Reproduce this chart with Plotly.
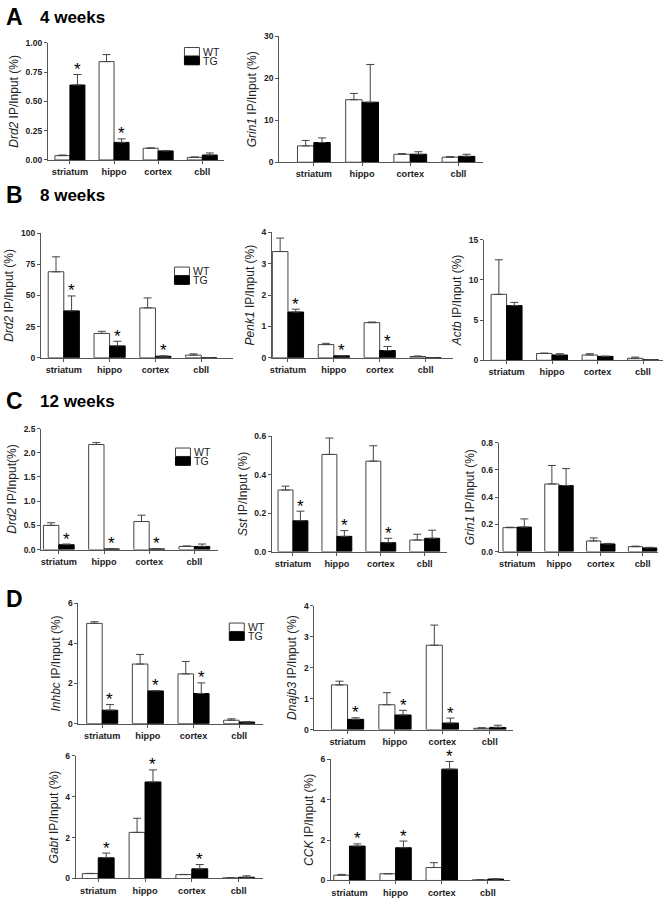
import plotly.graph_objects as go

categories = ["striatum", "hippo", "cortex", "cbll"]

# ---------------- A: 4 weeks ----------------
a_drd2_wt = [0.037, 0.84, 0.10, 0.022]
a_drd2_wt_err = [0.005, 0.06, 0.003, 0.004]
a_drd2_tg = [0.64, 0.15, 0.077, 0.042]
a_drd2_tg_err = [0.09, 0.03, 0.004, 0.018]
a_drd2_sig = [1, 1, 0, 0]

a_grin1_wt = [3.9, 14.9, 1.9, 1.2]
a_grin1_wt_err = [1.3, 1.5, 0.15, 0.15]
a_grin1_tg = [4.7, 14.3, 1.9, 1.4]
a_grin1_tg_err = [1.1, 9.0, 0.6, 0.5]
a_grin1_sig = [0, 0, 0, 0]

# ---------------- B: 8 weeks ----------------
b_drd2_wt = [69.0, 19.5, 40.0, 2.1]
b_drd2_wt_err = [12.0, 1.7, 8.0, 1.0]
b_drd2_tg = [37.6, 9.5, 1.2, 0.0]
b_drd2_tg_err = [12.0, 3.7, 0.3, 0.0]
b_drd2_sig = [1, 1, 1, 0]

b_penk1_wt = [3.39, 0.42, 1.12, 0.04]
b_penk1_wt_err = [0.43, 0.04, 0.02, 0.015]
b_penk1_tg = [1.46, 0.06, 0.23, 0.0]
b_penk1_tg_err = [0.09, 0.01, 0.13, 0.0]
b_penk1_sig = [1, 1, 1, 0]

b_actb_wt = [8.2, 0.85, 0.66, 0.25]
b_actb_wt_err = [4.3, 0.05, 0.16, 0.15]
b_actb_tg = [6.8, 0.66, 0.49, 0.06]
b_actb_tg_err = [0.4, 0.16, 0.03, 0.02]
b_actb_sig = [0, 0, 0, 0]

# ---------------- C: 12 weeks ----------------
c_drd2_wt = [0.50, 2.17, 0.58, 0.065]
c_drd2_wt_err = [0.055, 0.04, 0.13, 0.01]
c_drd2_tg = [0.10, 0.014, 0.014, 0.065]
c_drd2_tg_err = [0.015, 0.005, 0.005, 0.05]
c_drd2_sig = [1, 1, 1, 0]

c_sst_wt = [0.32, 0.505, 0.47, 0.06]
c_sst_wt_err = [0.02, 0.085, 0.08, 0.03]
c_sst_tg = [0.16, 0.079, 0.046, 0.069]
c_sst_tg_err = [0.05, 0.03, 0.023, 0.042]
c_sst_sig = [1, 1, 1, 0]

c_grin1_wt = [0.176, 0.497, 0.078, 0.036]
c_grin1_wt_err = [0.003, 0.136, 0.022, 0.004]
c_grin1_tg = [0.18, 0.485, 0.056, 0.027]
c_grin1_tg_err = [0.06, 0.125, 0.004, 0.004]
c_grin1_sig = [0, 0, 0, 0]

# ---------------- D ----------------
d_inhbc_wt = [5.0, 2.97, 2.48, 0.17]
d_inhbc_wt_err = [0.08, 0.48, 0.62, 0.07]
d_inhbc_tg = [0.67, 1.63, 1.5, 0.08]
d_inhbc_tg_err = [0.28, 0.02, 0.53, 0.01]
d_inhbc_sig = [1, 1, 1, 0]

d_dnajb3_wt = [1.44, 0.8, 2.72, 0.04]
d_dnajb3_wt_err = [0.12, 0.39, 0.65, 0.02]
d_dnajb3_tg = [0.33, 0.47, 0.21, 0.07]
d_dnajb3_tg_err = [0.05, 0.15, 0.16, 0.07]
d_dnajb3_sig = [1, 1, 1, 0]

d_gabt_wt = [0.24, 2.25, 0.19, 0.03]
d_gabt_wt_err = [0.01, 0.69, 0.01, 0.01]
d_gabt_tg = [1.01, 4.71, 0.47, 0.06]
d_gabt_tg_err = [0.23, 0.59, 0.21, 0.07]
d_gabt_sig = [1, 1, 1, 0]

d_cck_wt = [0.26, 0.33, 0.64, 0.03]
d_cck_wt_err = [0.04, 0.01, 0.24, 0.005]
d_cck_tg = [1.7, 1.62, 5.51, 0.07]
d_cck_tg_err = [0.11, 0.33, 0.38, 0.01]
d_cck_sig = [1, 1, 1, 0]

W, H = 668, 900
FONT = "Liberation Sans, Arial, sans-serif"
INK = "#222222"
AX = "#555555"
BW = 0.34  # bar width in category units
STAR_SHIFT_PX = 5  # vertical shift of the asterisk above the error cap


def px(x):
    return x / W


def py(y):
    return 1 - y / H


panels = [
    dict(x0=46, x1=223, yt=38.3, yb=156.7, xr=(-0.5, 3.5), ymax=1.0,
         ticks=[0, 0.25, 0.5, 0.75, 1.0], fmt="{:.2f}",
         title="<i>Drd2</i> IP/Input (%)",
         d=(a_drd2_wt, a_drd2_wt_err, a_drd2_tg, a_drd2_tg_err, a_drd2_sig),
         leg=(183, 43)),
    dict(x0=278, x1=482, yt=31.7, yb=159, xr=(-0.72, 3.5), ymax=30,
         ticks=[0, 10, 20, 30], fmt="{:.0f}",
         title="<i>Grin1</i> IP/Input (%)",
         d=(a_grin1_wt, a_grin1_wt_err, a_grin1_tg, a_grin1_tg_err, a_grin1_sig),
         leg=None),
    dict(x0=39, x1=232, yt=230.7, yb=356.7, xr=(-0.5, 3.7), ymax=100,
         ticks=[0, 25, 50, 75, 100], fmt="{:.0f}",
         title="<i>Drd2</i> IP/Input (%)",
         d=(b_drd2_wt, b_drd2_wt_err, b_drd2_tg, b_drd2_tg_err, b_drd2_sig),
         leg=(173, 265)),
    dict(x0=270.7, x1=452, yt=230, yb=356.7, xr=(-0.35, 3.59), ymax=4,
         ticks=[0, 1, 2, 3, 4], fmt="{:.0f}",
         title="<i>Penk1</i> IP/Input (%)",
         d=(b_penk1_wt, b_penk1_wt_err, b_penk1_tg, b_penk1_tg_err, b_penk1_sig),
         leg=None),
    dict(x0=483.3, x1=663, yt=237.3, yb=359.3, xr=(-0.5, 3.44), ymax=15,
         ticks=[0, 5, 10, 15], fmt="{:.0f}",
         title="<i>Actb</i> IP/Input (%)",
         d=(b_actb_wt, b_actb_wt_err, b_actb_tg, b_actb_tg_err, b_actb_sig),
         leg=None),
    dict(x0=39.3, x1=217, yt=428.3, yb=550.7, xr=(-0.39, 3.53), ymax=2.5,
         ticks=[0, 0.5, 1.0, 1.5, 2.0, 2.5], fmt="{:.1f}",
         title="<i>Drd2</i> IP/Input(%)",
         d=(c_drd2_wt, c_drd2_wt_err, c_drd2_tg, c_drd2_tg_err, c_drd2_sig),
         leg=(174, 448)),
    dict(x0=270.7, x1=446, yt=436, yb=552.7, xr=(-0.48, 3.5), ymax=0.6,
         ticks=[0, 0.2, 0.4, 0.6], fmt="{:.1f}",
         title="<i>Sst</i> IP/Input (%)",
         d=(c_sst_wt, c_sst_wt_err, c_sst_tg, c_sst_tg_err, c_sst_sig),
         leg=None),
    dict(x0=498.3, x1=658, yt=442.7, yb=552.7, xr=(-0.44, 3.37), ymax=0.8,
         ticks=[0, 0.2, 0.4, 0.6, 0.8], fmt="{:.1f}",
         title="<i>Grin1</i> IP/Input (%)",
         d=(c_grin1_wt, c_grin1_wt_err, c_grin1_tg, c_grin1_tg_err, c_grin1_sig),
         leg=None),
    dict(x0=76.7, x1=261.7, yt=605, yb=726.7, xr=(-0.52, 3.52), ymax=6,
         ticks=[0, 2, 4, 6], fmt="{:.0f}",
         title="<i>Inhbc</i> IP/Input (%)",
         d=(d_inhbc_wt, d_inhbc_wt_err, d_inhbc_tg, d_inhbc_tg_err, d_inhbc_sig),
         leg=(228, 625)),
    dict(x0=313.3, x1=513, yt=607.3, yb=732.7, xr=(-0.7, 3.5), ymax=4,
         ticks=[0, 1, 2, 3, 4], fmt="{:.0f}",
         title="<i>Dnajb3</i> IP/Input (%)",
         d=(d_dnajb3_wt, d_dnajb3_wt_err, d_dnajb3_tg, d_dnajb3_tg_err, d_dnajb3_sig),
         leg=None),
    dict(x0=74, x1=261.7, yt=759, yb=883.3, xr=(-0.48, 3.52), ymax=6,
         ticks=[0, 2, 4, 6], fmt="{:.0f}",
         title="<i>Gabt</i> IP/Input (%)",
         d=(d_gabt_wt, d_gabt_wt_err, d_gabt_tg, d_gabt_tg_err, d_gabt_sig),
         leg=None),
    dict(x0=330, x1=510, yt=762.7, yb=885.3, xr=(-0.4, 3.49), ymax=6,
         ticks=[0, 2, 4, 6], fmt="{:.0f}",
         title="<i>CCK</i> IP/Input (%)",
         d=(d_cck_wt, d_cck_wt_err, d_cck_tg, d_cck_tg_err, d_cck_sig),
         leg=None),
]

fig = go.Figure()
annotations = []
shapes = []
idx = list(range(len(categories)))

for k, p in enumerate(panels, start=1):
    xa = "x" if k == 1 else f"x{k}"
    ya = "y" if k == 1 else f"y{k}"
    wt, wt_err, tg, tg_err, sig = p["d"]
    fig.add_trace(go.Bar(
        x=idx, y=wt, width=BW, offset=-BW, xaxis=xa, yaxis=ya, name="WT",
        marker=dict(color="white", line=dict(color="#444444", width=1)),
        error_y=dict(type="data", array=wt_err, arrayminus=[0] * 4,
                     symmetric=False, color="#444444", thickness=1, width=4),
        showlegend=False))
    fig.add_trace(go.Bar(
        x=idx, y=tg, width=BW, offset=0, xaxis=xa, yaxis=ya, name="TG",
        marker=dict(color="black", line=dict(color="black", width=1)),
        error_y=dict(type="data", array=tg_err, arrayminus=[0] * 4,
                     symmetric=False, color="#444444", thickness=1, width=4),
        showlegend=False))
    # significance asterisks above the TG error caps
    for i in idx:
        if sig[i]:
            annotations.append(dict(
                text="*", x=i + BW / 2, y=tg[i] + tg_err[i], xref=xa, yref=ya,
                showarrow=False, xanchor="center", yanchor="middle",
                yshift=STAR_SHIFT_PX,
                font=dict(size=17, color="black", family=FONT)))

    kx = "xaxis" if k == 1 else f"xaxis{k}"
    ky = "yaxis" if k == 1 else f"yaxis{k}"
    fig.layout[kx] = dict(
        domain=[px(p["x0"]), px(p["x1"])], anchor=ya, range=list(p["xr"]),
        tickvals=idx, ticktext=[f"<b>{c}</b>" for c in categories],
        showline=True, linecolor=AX, linewidth=1, ticks="outside", ticklen=3,
        tickcolor=AX, showgrid=False, zeroline=False, fixedrange=True,
        tickfont=dict(size=9.2, color=INK, family=FONT))
    fig.layout[ky] = dict(
        domain=[py(p["yb"]), py(p["yt"])], anchor=xa, range=[0, p["ymax"]],
        tickvals=p["ticks"], ticktext=[f"<b>{p['fmt'].format(t)}</b>" for t in p["ticks"]],
        showline=True, linecolor=AX, linewidth=1, ticks="outside", ticklen=3,
        tickcolor=AX, showgrid=False, zeroline=False, fixedrange=True,
        tickfont=dict(size=8.5, color=INK, family=FONT),
        title=dict(text=p["title"], standoff=4,
                   font=dict(size=12, color=INK, family=FONT)))
    if p["leg"]:
        lx, ly = p["leg"]
        shapes.append(dict(type="rect", xref="paper", yref="paper",
                           x0=px(lx), x1=px(lx + 15), y0=py(ly), y1=py(ly + 8.5),
                           fillcolor="white", line=dict(color="#444444", width=1)))
        shapes.append(dict(type="rect", xref="paper", yref="paper",
                           x0=px(lx), x1=px(lx + 15), y0=py(ly + 9), y1=py(ly + 17.5),
                           fillcolor="black", line=dict(color="black", width=1)))
        annotations.append(dict(text="WT", x=px(lx + 17), y=py(ly + 4.2), xref="paper",
                                yref="paper", showarrow=False, xanchor="left",
                                yanchor="middle", font=dict(size=10.5, color=INK, family=FONT)))
        annotations.append(dict(text="TG", x=px(lx + 17), y=py(ly + 13.2), xref="paper",
                                yref="paper", showarrow=False, xanchor="left",
                                yanchor="middle", font=dict(size=10.5, color=INK, family=FONT)))

# panel letters and headings
for letter, ly, head in [("A", 12, "4 weeks"), ("B", 192, "8 weeks"),
                         ("C", 400, "12 weeks"), ("D", 601, None)]:
    annotations.append(dict(text=f"<b>{letter}</b>", x=px(2), y=py(ly), xref="paper",
                            yref="paper", showarrow=False, xanchor="left", yanchor="middle",
                            font=dict(size=23, color="black", family=FONT)))
    if head:
        annotations.append(dict(text=f"<b>{head}</b>", x=px(36), y=py(ly + 1), xref="paper",
                                yref="paper", showarrow=False, xanchor="left",
                                yanchor="middle", font=dict(size=17, color="black", family=FONT)))

fig.update_layout(
    width=W, height=H, margin=dict(l=0, r=0, t=0, b=0),
    paper_bgcolor="white", plot_bgcolor="white",
    barmode="overlay", showlegend=False,
    annotations=annotations, shapes=shapes,
    font=dict(family=FONT, color=INK))

fig.write_html("out.html", config={"displayModeBar": False},
               post_script="document.body.style.margin='0';document.body.style.overflow='hidden';")
